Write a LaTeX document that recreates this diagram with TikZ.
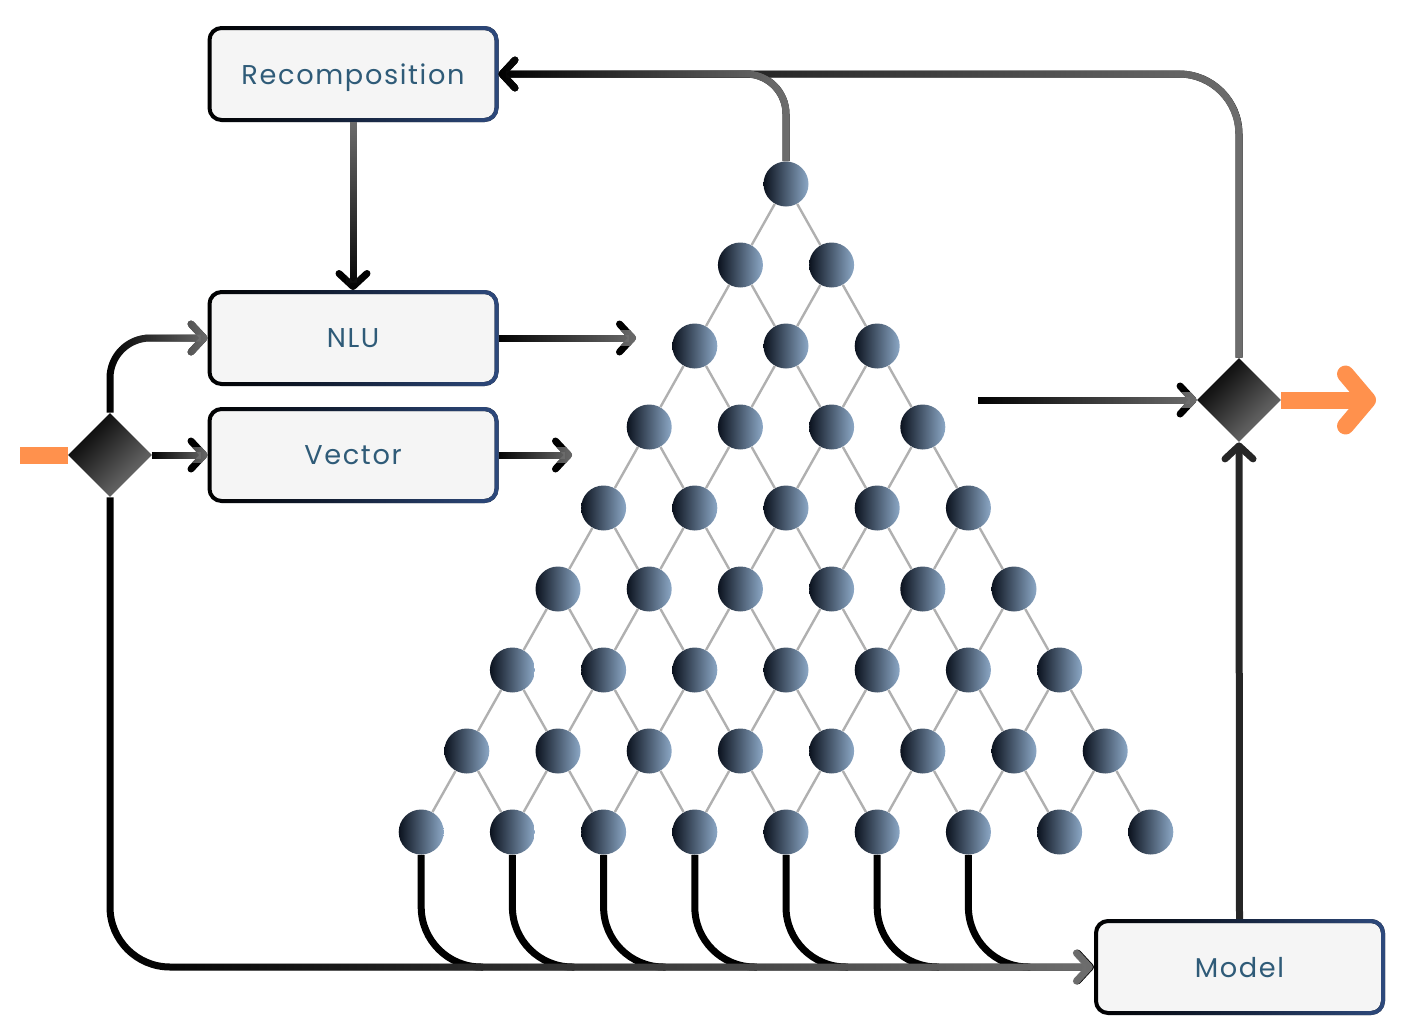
\documentclass[tikz,border=0pt]{standalone}
\usepackage{fontspec}
\setsansfont[LetterSpace=6]{Poppins}
\usepackage{tikz}
\usetikzlibrary{positioning,arrows.meta,shapes.geometric,calc,fadings}

\definecolor{boxfill}{HTML}{F5F5F5}
\definecolor{boxblue}{HTML}{2E4A7D}
\definecolor{labelblue}{HTML}{2F5B78}
\definecolor{linkgray}{HTML}{6E6E6E}
\definecolor{edgegray}{HTML}{B0B0B0}
\definecolor{balldark}{HTML}{0B121E}
\definecolor{balllight}{HTML}{8CA8C6}
\definecolor{accent}{HTML}{FF914D}
\definecolor{diagray}{HTML}{747474}

\tikzfading[name=fadein, left color=transparent!100, right color=transparent!0]
\tikzfading[name=fadeup, bottom color=transparent!100, top color=transparent!0]
\tikzfading[name=fadedown, top color=transparent!100, bottom color=transparent!0]

% black-to-gray connector: black stroke, gray stroke faded over it
\newcommand{\gradlink}[3]{%
  \draw[link,#1,draw=black] #3;
  \draw[link,#1,draw=linkgray,path fading=#2] #3;}

\begin{document}
\begin{tikzpicture}[
    x=0.5pt, y=-0.5pt,
    box/.style={draw=black, fill=boxfill, rounded corners=6pt, line width=2pt,
                minimum width=143.5pt, minimum height=46pt,
                font=\sffamily\fontsize{13.6}{15}\selectfont, text=labelblue,
                text depth=0pt, postaction={draw=boxblue, path fading=fadein}},
    diam/.style={diamond, aspect=1, minimum size=42pt, inner sep=0pt,
                 left color=black, right color=diagray, shading angle=45},
    ball/.style={circle, minimum size=22.5pt, inner sep=0pt,
                 left color=balldark, right color=balllight},
    edge/.style={draw=edgegray, line width=1.2pt},
    link/.style={line width=3.5pt},
    arr/.style={-{Straight Barb[length=6.5pt, width=14pt, round]}},
    hot/.style={draw=accent, line width=8.5pt}
]
\useasboundingbox (0,0) rectangle (1405,1034);

% boxes and switches
\node[box] (rec) at (353,74) {Recomposition};
\node[box] (nlu) at (353,338) {NLU};
\node[box] (vec) at (353,455) {Vector};
\node[box] (model) at (1239.5,967) {Model};
\node[diam] (ld) at (110,455) {};
\node[diam] (rd) at (1239,400) {};

\coordinate (in) at (20,455);
\coordinate (out) at (1376,400);
\coordinate (nluout) at (636,338);
\coordinate (vecout) at (572,455);
\coordinate (sumin) at (978,400);

% triangle of units
\foreach \r in {0,...,8}
  \foreach \k in {0,...,\r}
    \node[ball] (b-\r-\k) at ({786+(\k-\r/2)*91.2}, {184+\r*81}) {};
\foreach \r in {0,...,7}
  \foreach \k in {0,...,\r} {
    \pgfmathtruncatemacro\rn{\r+1}
    \pgfmathtruncatemacro\kn{\k+1}
    \draw[edge] (b-\r-\k) -- (b-\rn-\k);
    \draw[edge] (b-\r-\k) -- (b-\rn-\kn);
  }

% outputs of the bottom row
\foreach \k in {0,...,6}
  \draw[link, rounded corners=30pt] (b-8-\k.south) |- ($(b-8-\k.south |- model.west)+(62,0)$);

% connectors
\draw[hot] (in) -- (ld.west);
\draw[hot, -{Straight Barb[length=11pt, width=26pt, round]}] (rd.east) -- (out);
\gradlink{arr, rounded corners=20pt}{fadein}{(ld.north) |- (nlu.west)}
\gradlink{arr}{fadein}{(ld.east) -- (vec.west)}
\gradlink{arr, rounded corners=30pt}{fadein}{(ld.south) |- (model.west)}
\gradlink{arr}{fadeup}{(rec.south) -- (nlu.north)}
\gradlink{arr}{fadein}{(nlu.east) -- (nluout)}
\gradlink{arr}{fadein}{(vec.east) -- (vecout)}
\gradlink{arr}{fadein}{(sumin) -- (rd.west)}
\draw[link, arr, draw=black!85] (model.north) -- (rd.south);
\gradlink{arr, rounded corners=30pt}{fadein}{(rd.north) |- (rec.east)}
\gradlink{arr, rounded corners=20pt}{fadein}{(b-0-0.north) |- (rec.east)}
\end{tikzpicture}
\end{document}
